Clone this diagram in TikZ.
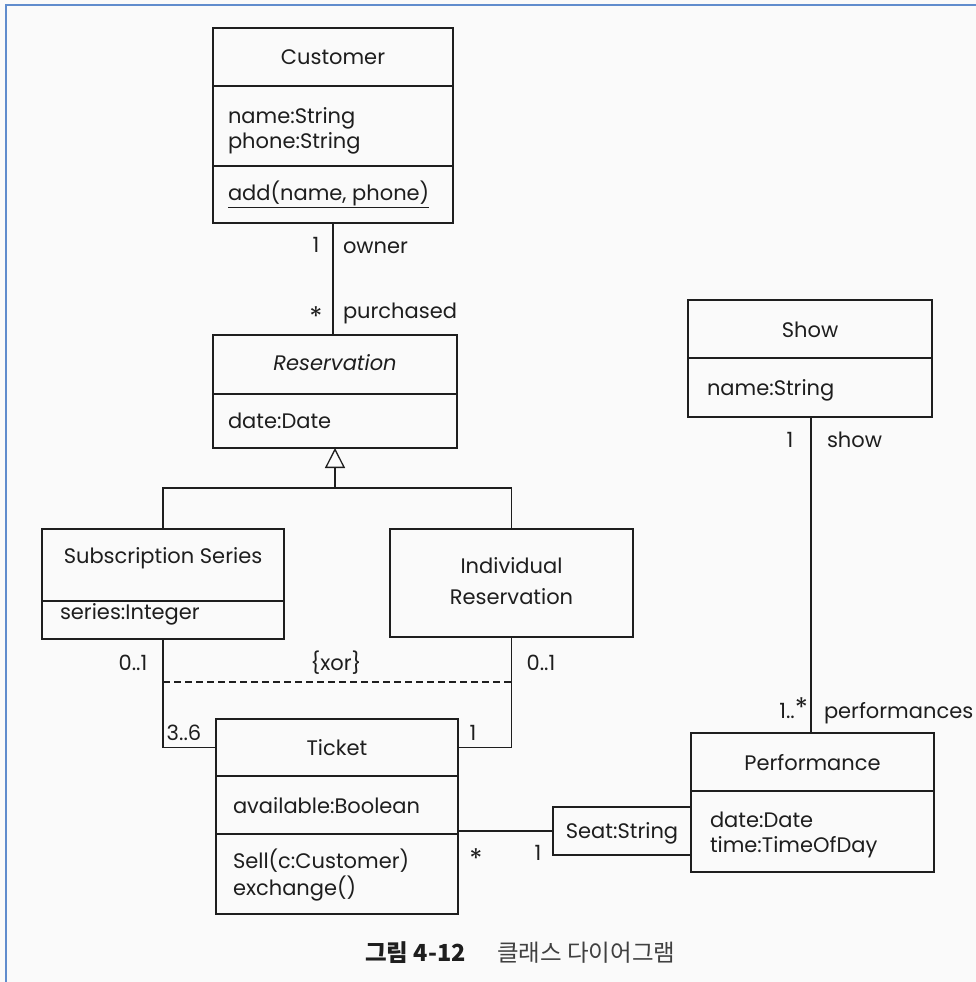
\documentclass[tikz,border=0pt]{standalone}
\usepackage{fontspec}
\setmainfont{Poppins}
\newfontfamily\krfont{Noto Sans CJK KR}
\usetikzlibrary{arrows.meta}
\definecolor{ink}{RGB}{30,30,30}
\definecolor{paper}{RGB}{250,250,250}
\definecolor{frameblue}{RGB}{96,140,205}
\newcommand{\bigstar}{{\fontsize{27}{27}\selectfont *}}
\begin{document}
\begin{tikzpicture}[x=1pt,y=-1pt,
  cbox/.style={draw=ink, line width=1.4pt, rectangle, inner sep=0pt, outer sep=0pt},
  conn/.style={draw=ink, line width=1.3pt},
  txt/.style={inner sep=0pt, outer sep=0pt, text=ink, font=\fontsize{21}{25}\selectfont,
              text height=15pt, text depth=0pt},
  txtl/.style={txt, anchor=west},
  captxt/.style={inner sep=0pt, anchor=west, text=ink, font=\krfont\fontsize{23.5}{26}\selectfont},
]
% page and frame
\fill[paper] (0,0) rectangle (976,982);
\useasboundingbox (0,0) rectangle (976,982);
\draw[frameblue, line width=2pt] (6,982) -- (6,5) -- (976,5);

% ---------- Customer ----------
\node[cbox, minimum width=240pt, minimum height=58pt] (cust-title) at (333,57) {};
\node[cbox, minimum width=240pt, minimum height=80pt] (cust-attr) at (333,126) {};
\node[cbox, minimum width=240pt, minimum height=57pt] (cust-ops) at (333,194.5) {};
\node[txt] (t-cust) at (333,57) {Customer};
\node[txtl] (t-cust-a1) at (228,116) {name:String};
\node[txtl] (t-cust-a2) at (228,141) {phone:String};
\node[txtl] (t-cust-o1) at (228,193) {\underline{add(name, phone)}};

% ---------- Reservation ----------
\node[cbox, minimum width=244pt, minimum height=59pt] (res-title) at (335,364.5) {};
\node[cbox, minimum width=244pt, minimum height=54pt] (res-attr) at (335,421) {};
\node[txt] (t-res) at (335,363) {\itshape Reservation};
\node[txtl] (t-res-a1) at (228,421) {date:Date};

% ---------- Subscription Series ----------
\node[cbox, minimum width=242pt, minimum height=72pt] (subs-title) at (163,565) {};
\node[cbox, minimum width=242pt, minimum height=38pt] (subs-attr) at (163,620) {};
\node[txt] (t-subs) at (163,556) {Subscription Series};
\node[txtl] (t-subs-a1) at (60,612) {series:Integer};

% ---------- Individual Reservation ----------
\node[cbox, minimum width=243pt, minimum height=108pt] (indiv) at (511.5,583) {};
\node[txt] (t-indiv1) at (511.5,566) {Individual};
\node[txt] (t-indiv2) at (511.5,597) {Reservation};

% ---------- Ticket ----------
\node[cbox, minimum width=242pt, minimum height=57pt] (tick-title) at (337,747.5) {};
\node[cbox, minimum width=242pt, minimum height=58pt] (tick-attr) at (337,805) {};
\node[cbox, minimum width=242pt, minimum height=80pt] (tick-ops) at (337,874) {};
\node[txt] (t-tick) at (337,748) {Ticket};
\node[txtl] (t-tick-a1) at (233,806) {available:Boolean};
\node[txtl] (t-tick-o1) at (233,861) {Sell(c:Customer)};
\node[txtl] (t-tick-o2) at (233,888) {exchange()};

% ---------- Show ----------
\node[cbox, minimum width=244pt, minimum height=58pt] (show-title) at (810,329) {};
\node[cbox, minimum width=244pt, minimum height=59pt] (show-attr) at (810,387.5) {};
\node[txt] (t-show) at (810,330) {Show};
\node[txtl] (t-show-a1) at (707,388) {name:String};

% ---------- Performance ----------
\node[cbox, minimum width=243pt, minimum height=58pt] (perf-title) at (812.5,762) {};
\node[cbox, minimum width=243pt, minimum height=81pt] (perf-attr) at (812.5,831.5) {};
\node[txt] (t-perf) at (812.5,763) {Performance};
\node[txtl] (t-perf-a1) at (710,820) {date:Date};
\node[txtl] (t-perf-a2) at (710,845) {time:TimeOfDay};

% qualifier box
\node[cbox, minimum width=138pt, minimum height=48pt] (seat) at (622,831) {};
\node[txt] (t-seat) at (622,831) {Seat:String};

% ---------- connectors ----------
% Customer -- Reservation
\draw[conn] (cust-ops.south) -- (cust-ops.south |- res-title.north);
\node[txt] (m-cust1) at (316,245) {1};
\node[txtl] (r-owner) at (343,246) {owner};
\node[txt] (m-cust2) at (316,319) {\bigstar};
\node[txtl] (r-purch) at (343,311) {purchased};

% generalisation
\coordinate (genbar) at (335,488);
\draw[conn] (subs-title.north) |- (genbar) -| (indiv.north);
\draw[conn, -{Triangle[open, length=20pt, width=20pt, line width=1.3pt]}] (genbar) -- (res-attr.south);

% Subscription / Individual -- Ticket
\draw[conn] (subs-attr.south) |- (tick-title.west);
\draw[conn] (indiv.south) |- (tick-title.east);
\coordinate (xorL) at (subs-attr.south |- 0,682);
\coordinate (xorR) at (indiv.south |- 0,682);
\draw[conn, line width=1.2pt, dash pattern=on 7pt off 4pt] (xorL) -- (xorR);
\node[txt] (m-subs) at (133,663) {0..1};
\node[txt] (c-xor) at (336,663) {\{xor\}};
\node[txt] (m-indiv) at (541,663) {0..1};
\node[txt] (m-tick1) at (184,733) {3..6};
\node[txt] (m-tick2) at (473,733) {1};

% Ticket -- Seat qualifier
\draw[conn] (seat.west) -- (seat.west -| tick-attr.east);
\node[txt] (m-seat1) at (476,861) {\bigstar};
\node[txt] (m-seat2) at (538,853) {1};

% Show -- Performance
\draw[conn] (811,0 |- show-attr.south) -- (811,0 |- perf-title.north);
\node[txt] (m-show1) at (790,440) {1};
\node[txtl] (r-show) at (827,440) {show};
\node[txt, anchor=east] (m-show2) at (808,711) {1..\raisebox{1pt}{\bigstar}};
\node[txtl] (r-perf) at (824,711) {performances};

% caption
\node[captxt] (cap-num) at (365,953) {\bfseries 그림 4-12};
\node[captxt, text=ink!85] (cap-title) at (497,953) {클래스 다이어그램};
\end{tikzpicture}
\end{document}
